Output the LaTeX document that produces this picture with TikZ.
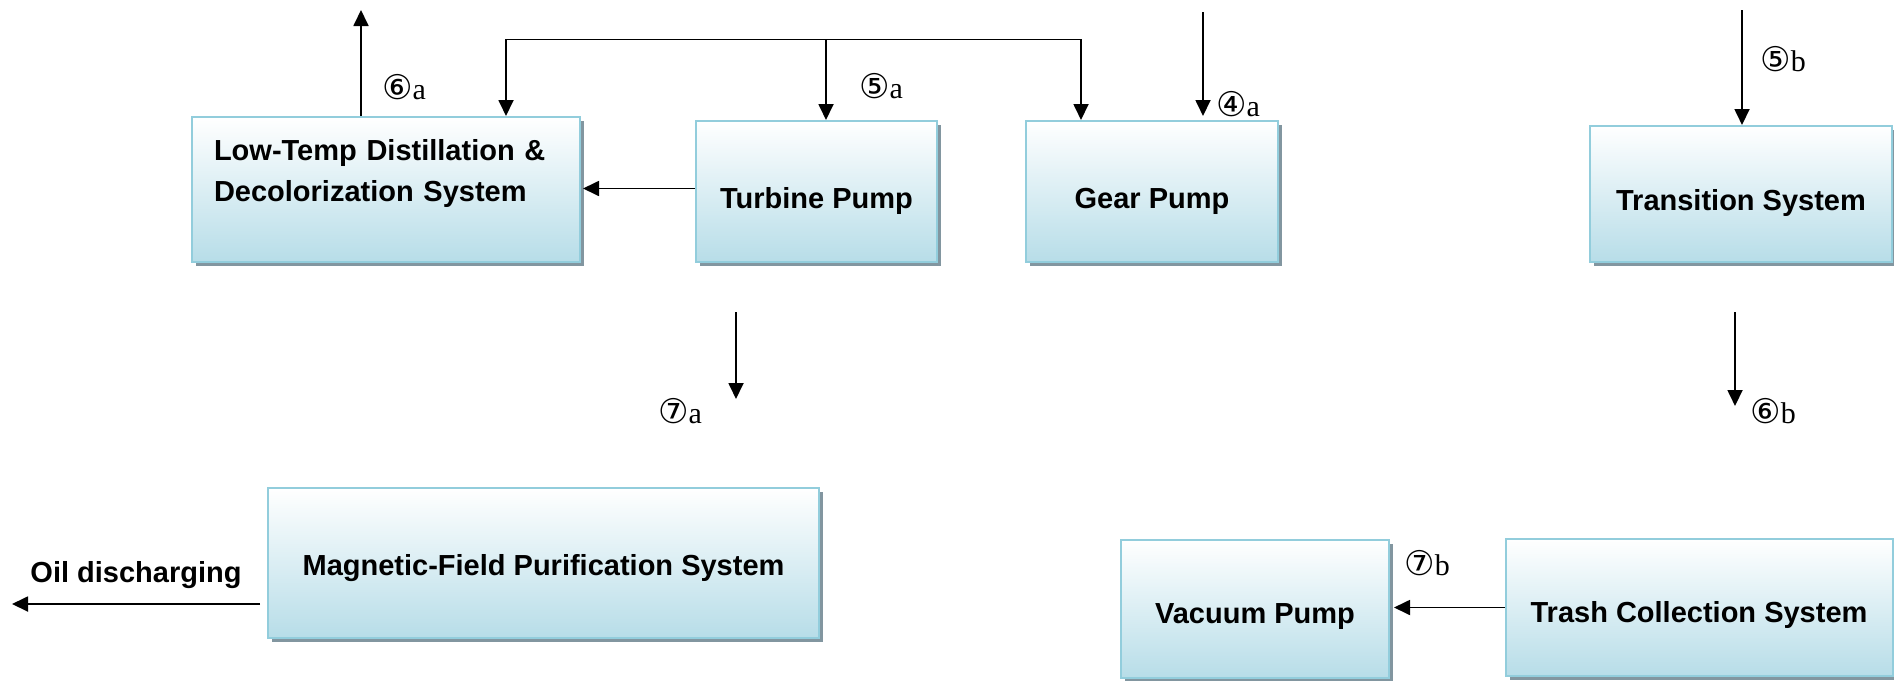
\documentclass[tikz,border=0pt]{standalone}
\usepackage{fontspec}
\setmainfont{Liberation Sans}
\newfontfamily\circfont{DejaVu Sans}
\newfontfamily\letterfont{Liberation Serif}
\usetikzlibrary{arrows.meta,shadows,positioning,calc}
\definecolor{boxline}{RGB}{146,205,220}
\definecolor{boxfill}{RGB}{183,221,232}
\definecolor{boxshade}{RGB}{130,150,160}
\newcommand{\steplabel}[2]{{\fontsize{34}{34}\selectfont\circfont #1}{\fontsize{30}{34}\selectfont\letterfont #2}}

\begin{document}
\begin{tikzpicture}[x=1pt, y=-1pt,
    unit/.style={draw=boxline, line width=2pt, top color=white, bottom color=boxfill,
        drop shadow={shadow xshift=4pt, shadow yshift=-4pt, fill=boxshade, opacity=1},
        font=\fontsize{29}{41}\selectfont\bfseries, inner sep=0pt,
        text height=33pt, text depth=0pt},
    flow/.style={line width=1.8pt, -{Triangle[length=16pt,width=15pt]}},
    tag/.style={inner sep=0pt}]
    \useasboundingbox (0,0) rectangle (1894,680);

    % Upper row
    \node[unit, minimum width=388pt, minimum height=145pt, text width=344pt, align=left,
        text height=21pt, text depth=79pt] (lowtemp) at (386,189.5)
        {Low-Temp Distillation \&\\Decolorization System};
    \node[unit, minimum width=241pt, minimum height=141pt] (turbine) at (816.5,191.5) {Turbine Pump};
    \node[unit, minimum width=252pt, minimum height=141pt] (gear) at (1152,191.5) {Gear Pump};
    \node[unit, minimum width=302pt, minimum height=136pt] (transition) at (1741,194) {Transition System};

    % Lower row
    \node[unit, minimum width=551pt, minimum height=150pt, text height=25pt] (magnetic) at (543.5,563) {Magnetic-Field Purification System};
    \node[unit, minimum width=268pt, minimum height=138pt, text height=29pt] (vacuum) at (1255,609) {Vacuum Pump};
    \node[unit, minimum width=387pt, minimum height=137pt, text height=29pt] (trash) at (1699,607.5) {Trash Collection System};

    % Feeds from above
    \coordinate (out6a) at (361,10);
    \draw[flow] (lowtemp.north -| out6a) -- (out6a);
    \coordinate (split) at (506,39);
    \coordinate (tap5a) at (826,39);
    \coordinate (splitend) at (1081,39);
    \draw (split) -- (splitend);
    \draw[flow] (split) -- (split |- lowtemp.north);
    \draw[flow] (tap5a) -- (tap5a |- turbine.north);
    \draw[flow] (splitend) -- (splitend |- gear.north);
    \coordinate (in4a) at (1203,12);
    \draw[flow, shorten >=4pt] (in4a) -- (in4a |- gear.north);
    \coordinate (in5b) at (1742,10);
    \draw[flow] (in5b) -- (in5b |- transition.north);

    \coordinate (back) at (816,188.5);
    \draw[flow, shorten >=2pt] (back -| turbine.west) -- (back -| lowtemp.east);

    % Outputs
    \coordinate (out7a) at (736,312);
    \coordinate (end7a) at (736,399);
    \draw[flow] (out7a) -- (end7a);
    \coordinate (out6b) at (1735,312);
    \coordinate (end6b) at (1735,406);
    \draw[flow] (out6b) -- (end6b);
    \coordinate (oil) at (12,604);
    \draw[flow, shorten <=7pt] (oil -| magnetic.west) -- (oil);
    \draw[flow, shorten >=4pt] (trash.west) -- (trash.west -| vacuum.east);

    % Labels
    \node[tag] (l6a) at (404,87) {\steplabel{⑥}{a}};
    \node[tag] (l5a) at (881,86) {\steplabel{⑤}{a}};
    \node[tag] (l4a) at (1238,104) {\steplabel{④}{a}};
    \node[tag] (l7a) at (680,411) {\steplabel{⑦}{a}};
    \node[tag] (l5b) at (1783,59) {\steplabel{⑤}{b}};
    \node[tag] (l6b) at (1773,411) {\steplabel{⑥}{b}};
    \node[tag] (l7b) at (1427,563) {\steplabel{⑦}{b}};
    \node[font=\fontsize{29}{34}\selectfont\bfseries] (oiltext) at (136,575) {Oil discharging};
\end{tikzpicture}
\end{document}
